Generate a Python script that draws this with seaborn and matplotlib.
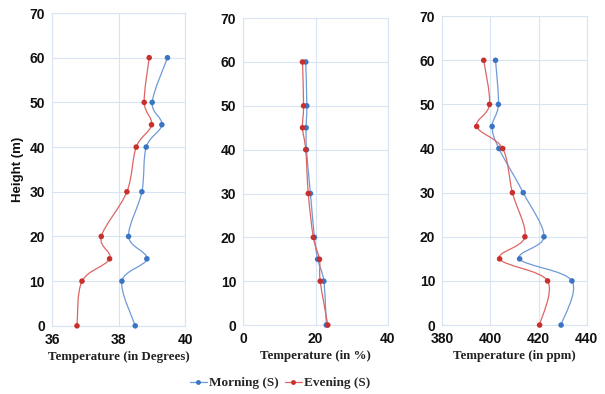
import numpy as np
import pandas as pd
import matplotlib
matplotlib.use("Agg")
import matplotlib.pyplot as plt
from matplotlib.path import Path
from matplotlib.patches import PathPatch
from matplotlib.lines import Line2D
import seaborn as sns

# Sampling heights (m)
heights = [0, 10, 15, 20, 30, 40, 45, 50, 60]

# Panel 1: temperature (degrees)
deg_morning = [38.50, 38.10, 38.85, 38.30, 38.70, 38.83, 39.30, 39.01, 39.47]
deg_evening = [36.75, 36.90, 37.73, 37.48, 38.25, 38.53, 38.99, 38.77, 38.92]

# Panel 2: temperature (in %)
pct_morning = [23.0, 22.3, 20.6, 19.7, 18.6, 17.5, 17.4, 17.6, 17.3]
pct_evening = [23.4, 21.3, 21.1, 19.4, 18.0, 17.3, 16.4, 16.7, 16.4]

# Panel 3: temperature (in ppm)
ppm_morning = [429.3, 433.8, 412.1, 422.2, 413.6, 403.5, 400.7, 403.3, 402.1]
ppm_evening = [420.4, 423.7, 403.8, 414.3, 409.1, 405.1, 394.3, 399.6, 397.2]

series_names = ["Morning (S)", "Evening (S)"]
x_labels = ["Temperature (in Degrees)", "Temperature (in %)", "Temperature (in ppm)"]
x_limits = [(36, 40), (0, 40), (380, 440)]
x_ticks = [[36, 38, 40], [0, 20, 40], [380, 400, 420, 440]]
y_ticks = [0, 10, 20, 30, 40, 50, 60, 70]

line_colors = {"Morning (S)": "#6E9AD6", "Evening (S)": "#DD6464"}
dot_colors = {"Morning (S)": "#3A75C4", "Evening (S)": "#C8302C"}
grid_color = "#D9E4F2"

sns.set_style("white")
plt.rcParams["font.family"] = ["Liberation Sans", "DejaVu Sans"]

fig = plt.figure(figsize=(6.05, 3.94), dpi=100)
axes_boxes = [
    [0.086, 0.173, 0.220, 0.794],
    [0.402, 0.175, 0.239, 0.779],
    [0.731, 0.175, 0.239, 0.784],
]


def smooth_path(ax, xs, ys):
    """Cubic Bezier through the points (Catmull-Rom style, computed in pixel space)."""
    bbox = ax.get_position()
    fw, fh = fig.get_size_inches() * fig.dpi
    x0, x1 = ax.get_xlim()
    y0, y1 = ax.get_ylim()
    sx = bbox.width * fw / (x1 - x0)
    sy = bbox.height * fh / (y1 - y0)
    px = np.asarray(xs, float) * sx
    py = np.asarray(ys, float) * sy
    n = len(px)
    verts = [(xs[0], ys[0])]
    codes = [Path.MOVETO]
    for i in range(n - 1):
        p0 = max(i - 1, 0)
        p3 = min(i + 2, n - 1)
        c1x = px[i] + (px[i + 1] - px[p0]) / 6.0
        c1y = py[i] + (py[i + 1] - py[p0]) / 6.0
        c2x = px[i + 1] - (px[p3] - px[i]) / 6.0
        c2y = py[i + 1] - (py[p3] - py[i]) / 6.0
        verts += [(c1x / sx, c1y / sy), (c2x / sx, c2y / sy), (xs[i + 1], ys[i + 1])]
        codes += [Path.CURVE4] * 3
    return Path(verts, codes)


panels = [
    (deg_morning, deg_evening),
    (pct_morning, pct_evening),
    (ppm_morning, ppm_evening),
]

for k, (morning, evening) in enumerate(panels):
    ax = fig.add_axes(axes_boxes[k])
    df = pd.DataFrame({
        "value": morning + evening,
        "height": heights * 2,
        "series": [series_names[0]] * len(heights) + [series_names[1]] * len(heights),
    })
    ax.set_xlim(*x_limits[k])
    ax.set_ylim(0, 70)
    ax.set_xticks(x_ticks[k])
    ax.set_yticks(y_ticks)
    ax.grid(True, color=grid_color, linewidth=0.8)
    ax.set_axisbelow(True)
    for sp in ax.spines.values():
        sp.set_visible(True)
        sp.set_color(grid_color)
        sp.set_linewidth(0.8)

    for name, vals in zip(series_names, (morning, evening)):
        ax.add_patch(PathPatch(smooth_path(ax, vals, heights), facecolor="none",
                               edgecolor=line_colors[name], linewidth=0.9, zorder=2))
    sns.scatterplot(data=df, x="value", y="height", hue="series", palette=dot_colors,
                    s=16, linewidth=0, legend=False, ax=ax, zorder=3, clip_on=False)

    ax.set_xlabel(x_labels[k], fontfamily="Liberation Serif", fontweight="bold",
                  fontsize=9.3, color="#222222", labelpad=3)
    ax.set_ylabel("Height (m)" if k == 0 else "", fontweight="bold", fontsize=9.5,
                  color="#111111", labelpad=4)
    ax.tick_params(axis="both", length=0, pad=5, labelsize=10, labelcolor="#111111")
    for lab in ax.get_xticklabels() + ax.get_yticklabels():
        lab.set_fontweight("bold")

handles = [
    Line2D([], [], color=line_colors[n], linewidth=0.9, marker="o", markersize=3.5,
           markerfacecolor=dot_colors[n], markeredgewidth=0)
    for n in series_names
]
fig.legend(handles, series_names, loc="center", bbox_to_anchor=(0.463, 0.027),
           ncol=2, frameon=False, handlelength=1.3, handletextpad=0.2, columnspacing=0.4,
           prop={"family": "Liberation Serif", "weight": "bold", "size": 9.5})

fig.savefig("out.png", dpi=100)
